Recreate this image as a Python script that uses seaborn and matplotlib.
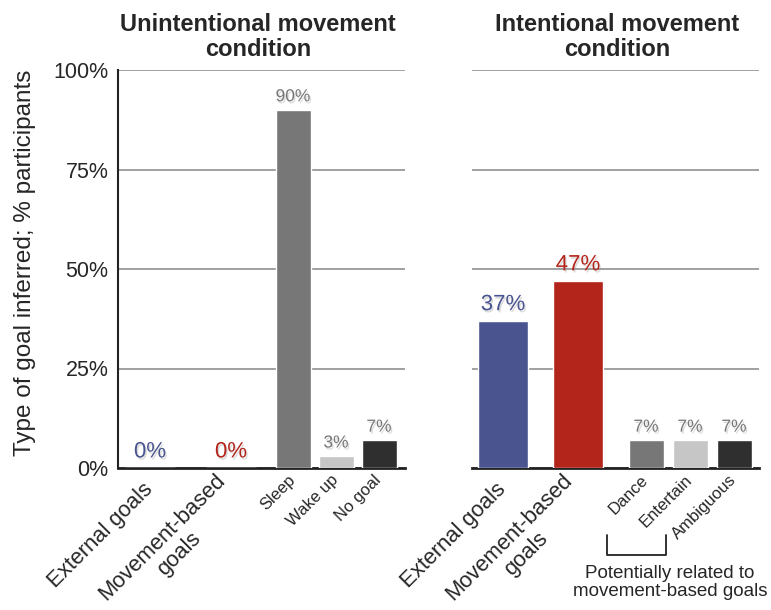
import pandas as pd
import seaborn as sns
import matplotlib.pyplot as plt
import matplotlib.patheffects as pe

# Data
main_names = ['External goals', 'Movement-based\ngoals']
left_main_vals = [0, 0]
left_small = ['Sleep', 'Wake up', 'No goal']
left_small_vals = [90, 3, 7]

right_main_vals = [37, 47]
right_small = ['Dance', 'Entertain', 'Ambiguous']
right_small_vals = [7, 7, 7]

yticks = [0, 25, 50, 75, 100]
ytick_labels = ['0%', '25%', '50%', '75%', '100%']

# positions in pixel-like units inside each axes
left_main_pos = [32, 113]
left_small_pos = [175, 218, 261]
right_main_pos = [31, 106]
right_small_pos = [174, 218, 262]

blue = '#4a5590'
red = '#b3241a'
mid = '#777777'
light = '#c6c6c6'
dark = '#2f2f2f'
main_colors = [blue, red]
small_colors = [mid, light, dark]

sns.set_style('white')
plt.rcParams['font.family'] = ['Liberation Sans', 'DejaVu Sans']

fig = plt.figure(figsize=(7.71, 6.10), dpi=100)
W, H = 771, 610
y0, y1 = 468, 70
axL = fig.add_axes([118 / W, 1 - y0 / H, 287 / W, (y0 - y1) / H])
axR = fig.add_axes([472 / W, 1 - y0 / H, 287 / W, (y0 - y1) / H])

shadow = [pe.withSimplePatchShadow(offset=(1, -1.5), shadow_rgbFace='#999999', alpha=0.35)]


def draw(ax, pos, vals, names, colors, width, big):
    df = pd.DataFrame({'pos': pos, 'val': vals, 'cat': names})
    sns.barplot(data=df, x='pos', y='val', hue='cat', palette=dict(zip(names, colors)),
                native_scale=True, dodge=False, width=width, legend=False,
                saturation=1, ax=ax, zorder=3)
    for p, v, c in zip(pos, vals, colors):
        ax.annotate(f'{v}%', (p, v), xytext=(0, 4), textcoords='offset points',
                    ha='center', va='bottom',
                    fontsize=16 if big else 12.5,
                    color=c if big else mid, path_effects=shadow, zorder=5)


def style_labels(labels, size):
    for t in labels:
        t.set_rotation(45)
        t.set_rotation_mode('anchor')
        t.set_ha('right')
        t.set_va('center')
        t.set_fontsize(size)
        t.set_multialignment('center')


for ax, mp, mv, sp, sv, small in [
        (axL, left_main_pos, left_main_vals, left_small_pos, left_small_vals, left_small),
        (axR, right_main_pos, right_main_vals, right_small_pos, right_small_vals, right_small)]:
    draw(ax, mp, mv, main_names, main_colors, 50 / (mp[1] - mp[0]), True)
    draw(ax, sp, sv, small, small_colors, 35 / (sp[1] - sp[0]), False)
    ax.set_xlim(0, 287)
    ax.set_ylim(0, 100)
    ax.set_axisbelow(True)
    ax.yaxis.grid(True, color='#999999', linewidth=1.3, zorder=0)
    ax.set_yticks(yticks)
    ax.set_xlabel('')
    ax.set_ylabel('')
    for s in ['top', 'right']:
        ax.spines[s].set_visible(False)
    ax.spines['bottom'].set_color('#222222')
    ax.spines['bottom'].set_linewidth(2)
    ax.set_xticks(mp)
    style_labels(ax.set_xticklabels(main_names), 15.8)
    ax.set_xticks(sp, minor=True)
    style_labels(ax.set_xticklabels(small, minor=True), 12)
    ax.tick_params(which='both', length=0)
    ax.tick_params(axis='x', which='major', pad=13)
    ax.tick_params(axis='x', which='minor', pad=7)

axL.spines['left'].set_color('#222222')
axL.spines['left'].set_linewidth(1.5)
axL.set_yticklabels(ytick_labels, fontsize=15.5)
axL.tick_params(axis='y', pad=7)
axR.spines['left'].set_visible(False)
axR.set_yticklabels([])

fig.text(25 / W, 1 - 263 / H, 'Type of goal inferred; % participants', rotation=90,
         ha='center', va='center', fontsize=17.5)

fig.text(258 / W, 1 - 37 / H, 'Unintentional movement\ncondition', ha='center', va='center',
         fontsize=17, fontweight='bold', linespacing=1.1)
fig.text(617 / W, 1 - 37 / H, 'Intentional movement\ncondition', ha='center', va='center',
         fontsize=17, fontweight='bold', linespacing=1.1)

# bracket under Dance / Entertain
tr = axR.get_xaxis_transform()
bx0, bx1 = 135, 194
by0, by1 = -0.168, -0.219
axR.plot([bx0, bx0, bx1, bx1], [by0, by1, by1, by0], color='#222222', lw=1.3,
         transform=tr, clip_on=False)
axR.text(198, -0.288, 'Potentially related to\nmovement-based goals', transform=tr,
         ha='center', va='center', fontsize=13.5, linespacing=1.1)

fig.savefig('out.png', dpi=100)
